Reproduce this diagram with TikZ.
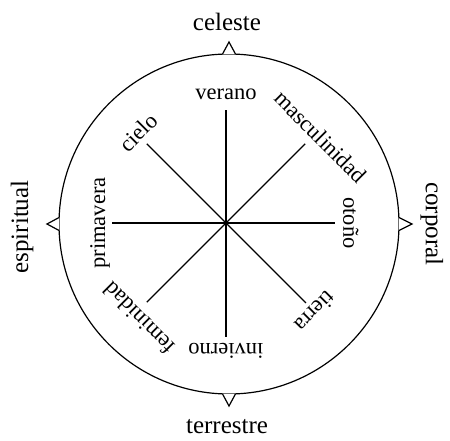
\documentclass[tikz,border=0pt]{standalone}
\usepackage{fontspec}
\setmainfont{Liberation Serif}
\usetikzlibrary{calc}
\begin{document}
\begin{tikzpicture}[x=1pt,y=1pt,
  outerlabel/.style={font=\fontsize{25}{25}\selectfont, inner sep=0pt},
  innerlabel/.style={font=\fontsize{22.5}{22.5}\selectfont, inner sep=0pt, anchor=south},
  spoke/.style={line width=1.1pt},
  marker/.style={draw, line width=1.2pt, fill=white, line join=miter}]
\useasboundingbox (-226,-218) rectangle (224,223);

% Centre and outer circle
\coordinate (o) at (0,0);
\coordinate (c) at (3,-1);
\draw[line width=1.2pt] (c) circle (170);

% Small triangles on the circle
\draw[marker] ($(c)+(87.8:170)$) -- ($(c)+(90:182)$) -- ($(c)+(92.2:170)$);
\draw[marker] ($(c)+(-2.2:170)$) -- ($(c)+(0:183)$) -- ($(c)+(2.2:170)$);
\draw[marker] ($(c)+(177.8:170)$) -- ($(c)+(180:182)$) -- ($(c)+(182.2:170)$);
\draw[marker] ($(c)+(267.8:170)$) -- ($(c)+(270:182)$) -- ($(c)+(272.2:170)$);

% Outer labels
\node[outerlabel] (celeste) at (1,201) {celeste};
\node[outerlabel, rotate=-90] (corporal) at (206,-1) {corporal};
\node[outerlabel] (terrestre) at (1,-204) {terrestre};
\node[outerlabel, rotate=90] (espiritual) at (-204,-4) {espiritual};

% Spoke ends
\coordinate (verano-end) at (90:113);
\coordinate (masc-end) at (45:112);
\coordinate (otono-end) at (0:109);
\coordinate (tierra-end) at (-45:113);
\coordinate (invierno-end) at (-90:114);
\coordinate (fem-end) at (-135:112);
\coordinate (prim-end) at (180:114);
\coordinate (cielo-end) at (135:112);

% Spokes
\draw[spoke] (o) -- (verano-end);
\draw[spoke] (o) -- (masc-end);
\draw[spoke] (o) -- (otono-end);
\draw[spoke] (o) -- (tierra-end);
\draw[spoke] (o) -- (invierno-end);
\draw[spoke] (o) -- (fem-end);
\draw[spoke] (o) -- (prim-end);
\draw[spoke] (o) -- (cielo-end);

% Inner labels
\node[innerlabel] (verano) at (90:123) {verano};
\node[innerlabel, rotate=-45] (masculinidad) at (42:120) {masculinidad};
\node[innerlabel, rotate=-90] (otono) at (0:117) {otoño};
\node[innerlabel, rotate=-135] (tierra) at (-45:118) {tierra};
\node[innerlabel, rotate=180] (invierno) at (-90:120) {invierno};
\node[innerlabel, rotate=135] (feminidad) at (-132:121) {feminidad};
\node[innerlabel, rotate=90] (primavera) at (180:116) {primavera};
\node[innerlabel, rotate=45] (cielo) at (134:118) {cielo};

\end{tikzpicture}
\end{document}
